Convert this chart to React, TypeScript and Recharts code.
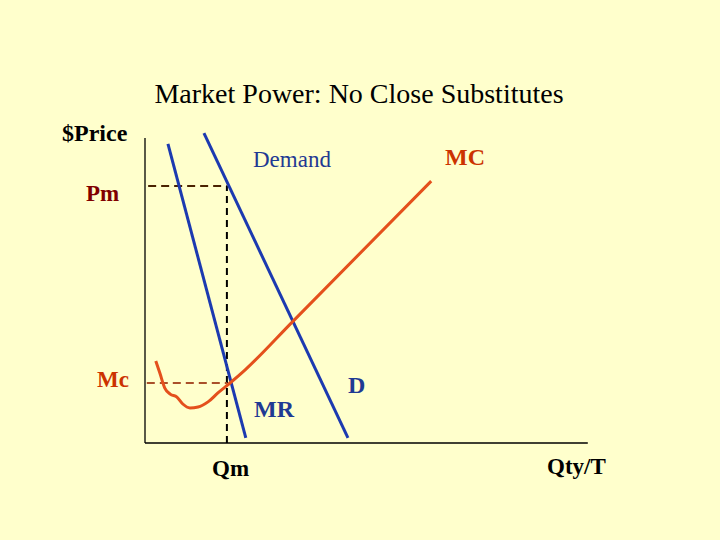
import { LineChart, Line, XAxis, YAxis, ReferenceLine } from 'recharts'

// curve points (quantity 0-100, price 0-105)
const mrCurve = [
  { x: 5.1, y: 99.7 },
  { x: 22.4, y: 1.7 }
]

const demandCurve = [
  { x: 13.1, y: 103.3 },
  { x: 45.1, y: 1.7 }
]

const mcCurve = [
  { x: 2.4, y: 27.3 },
  { x: 3.3, y: 23.3 },
  { x: 4.4, y: 18.3 },
  { x: 5.6, y: 16.3 },
  { x: 7.1, y: 15.3 },
  { x: 8.4, y: 13.0 },
  { x: 10.0, y: 11.7 },
  { x: 11.8, y: 12.0 },
  { x: 14.0, y: 13.7 },
  { x: 16.2, y: 16.7 },
  { x: 18.9, y: 20.0 },
  { x: 22.2, y: 24.3 },
  { x: 32.7, y: 40.3 },
  { x: 63.6, y: 87.3 }
]

const PM = 85.7
const MC_PRICE = 20
const QM = 18.2
const X_AXIS_END = 98.4
const Y_AXIS_END = 101.7

const COLORS = {
  bg: '#FFFFCC',
  blue: '#1C3AB0',
  blueText: '#1F3A93',
  orange: '#E4501C',
  orangeText: '#CC3300',
  darkRed: '#800000',
  pmDash: '#4A2200',
  mcDash: '#A9502A'
}

const FONT = '"Liberation Serif", "Times New Roman", serif'

export default function App() {
  const label = (x: number, y: number, text: string, color: string, bold = true, size = 23) => (
    <text x={x} y={y} fill={color} fontSize={size} fontWeight={bold ? 'bold' : 'normal'} fontFamily={FONT}>
      {text}
    </text>
  )

  return (
    <div style={{ position: 'absolute', top: 0, left: 0, width: 720, height: 540, background: COLORS.bg }}>
      <LineChart width={720} height={540} margin={{ top: 128, right: 125, bottom: 97, left: 145 }}>
        <XAxis type="number" dataKey="x" domain={[0, 100]} hide />
        <YAxis type="number" dataKey="y" domain={[0, 105]} hide />
        {/* axes */}
        <ReferenceLine segment={[{ x: 0, y: 0 }, { x: 0, y: Y_AXIS_END }]} stroke="#000" strokeWidth={1.3} ifOverflow="visible" />
        <ReferenceLine segment={[{ x: 0, y: 0 }, { x: X_AXIS_END, y: 0 }]} stroke="#000" strokeWidth={1.3} ifOverflow="visible" />
        {/* dashed guides */}
        <ReferenceLine segment={[{ x: 0.7, y: PM }, { x: QM, y: PM }]} stroke={COLORS.pmDash} strokeWidth={2} strokeDasharray="8 5" ifOverflow="visible" />
        <ReferenceLine segment={[{ x: QM, y: 0 }, { x: QM, y: PM }]} stroke="#000" strokeWidth={2} strokeDasharray="7 5" ifOverflow="visible" />
        <ReferenceLine segment={[{ x: 0.4, y: MC_PRICE }, { x: QM, y: MC_PRICE }]} stroke={COLORS.mcDash} strokeWidth={2} strokeDasharray="8 5" ifOverflow="visible" />
        <Line data={mrCurve} dataKey="y" type="linear" stroke={COLORS.blue} strokeWidth={3} dot={false} isAnimationActive={false} />
        <Line data={demandCurve} dataKey="y" type="linear" stroke={COLORS.blue} strokeWidth={3} dot={false} isAnimationActive={false} />
        <Line data={mcCurve} dataKey="y" type="monotone" stroke={COLORS.orange} strokeWidth={3} dot={false} isAnimationActive={false} />
      </LineChart>
      <svg width={720} height={540} style={{ position: 'absolute', top: 0, left: 0, pointerEvents: 'none' }}>
        <text x={359} y={103} textAnchor="middle" fontSize={28} fontFamily={FONT} fill="#000">
          Market Power: No Close Substitutes
        </text>
        {label(62, 141, '$Price', '#000', true, 24)}
        {label(253, 167, 'Demand', COLORS.blueText, false, 23)}
        {label(445, 165, 'MC', COLORS.orangeText, true, 24)}
        {label(86, 201, 'Pm', COLORS.darkRed)}
        {label(97, 387, 'Mc', COLORS.orangeText)}
        {label(254, 417, 'MR', COLORS.blueText, true, 24)}
        {label(348, 393, 'D', COLORS.blueText, true, 24)}
        {label(212, 476, 'Qm', '#000')}
        {label(547, 474, 'Qty/T', '#000')}
      </svg>
    </div>
  )
}
